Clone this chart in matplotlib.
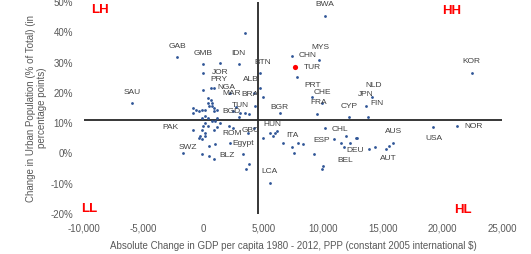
import matplotlib
matplotlib.use("Agg")
import matplotlib.pyplot as plt

plt.rcParams['font.family'] = ['Liberation Sans Narrow', 'Liberation Sans', 'DejaVu Sans']

# absolute change in GDP per capita 1980-2012 (PPP, constant 2005 intl $)
gdp_change = [10200, 3500, -2200, -5950, 0, 2950, 1400, 4750, 9700, 7450,
              7850, 9050, 9900, 9550, 12150, 14150, 13650, 13750, 22450, 0,
              4750, 4200, 5000, 0, 600, 850, 2250, 350, 600, 750,
              400, 750, 500, 850, 900, 1100, -900, -650, -400, -150,
              100, -850, 150, -100, 400, 750, 1100, 2750, 2450, 3100,
              3450, 3850, 4350, 2950, 6450,
              -900, 0, 400, 100, -100, 150, 850, 1150, 1400, 1000,
              -250, -400, -100, 100, 2100, 2450, 3750, 4200, 4950, 2250,
              -1750, 500, 1000, -100, 500, 850, 3350, 3850, 3600, 5550,
              5600, 5800, 6030, 6200, 6700, 7450, 7550, 7950, 8375, 10200,
              10950, 9300, 10050, 9950, 11950, 11550, 11800, 12250, 12750, 12900,
              13900, 14400, 15250, 15500, 15850, 19250, 21250]
# change in urban population share, percentage points
urban_change = [45.5, 39.6, 31.7, 16.5, 29.4, 29.4, 30.0, 26.4, 31.0, 32.3,
                25.1, 18.5, 16.5, 12.9, 11.9, 18.5, 15.5, 11.9, 26.7, 26.7,
                21.5, 20.1, 18.5, 20.8, 21.5, 21.5, 19.8, 18.2, 17.8, 16.8,
                16.5, 15.8, 15.5, 14.9, 13.9, 14.2, 14.9, 14.2, 13.9, 14.5,
                14.2, 13.2, 12.5, 11.6, 11.6, 10.6, 11.6, 15.2, 13.9, 13.2,
                13.2, 12.9, 15.8, 11.9, 13.2,
                7.9, 9.2, 8.9, 9.9, 7.6, 6.9, 7.6, 8.6, 9.9, 10.6,
                5.9, 5.0, 4.6, 5.9, 8.9, 8.3, 6.6, 8.3, 5.0, 3.3,
                0.3, 2.3, 3.0, -0.3, -0.7, -2.0, -0.3, -3.6, -5.0, -9.6,
                6.6, 5.9, 6.9, 7.3, 3.6, 2.0, 0.3, 3.3, 3.0, 8.3,
                4.6, -0.3, -4.0, -5.0, 5.6, 3.3, 2.0, 3.3, 5.0, 5.0,
                1.3, 2.0, 1.3, 2.3, 3.3, 8.6, 8.9]

# Turkey highlighted
tur_gdp = [7700]
tur_urban = [28.4]

# country label positions (text centre)
label_names = ['BWA', 'GAB', 'SAU', 'GMB', 'IDN', 'BTN', 'MYS', 'CHN', 'TUR', 'PRT',
               'CHE', 'FRA', 'CYP', 'NLD', 'JPN', 'FIN', 'KOR', 'JOR', 'PRY', 'ALB',
               'NGA', 'MAR', 'BRA', 'TUN', 'BGD', 'BGR', 'HUN', 'PAK', 'ROM', 'GBC',
               'Egypt', 'SWZ', 'BLZ', 'LCA', 'ITA', 'ESP', 'CHL', 'DEU', 'BEL', 'AUS',
               'AUT', 'USA', 'NOR']
label_x = [10200, -2200, -5950, 0, 2950, 4950, 9800, 8700, 9130, 9130,
           9970, 9630, 12230, 14240, 13570, 14490, 22450, 1420, 1260, 3940,
           1930, 2350, 3940, 3100, 2350, 6370, 5780, -2760, 2430, 3940,
           3350, -1260, 2010, 5530, 7450, 9880, 11470, 12730, 11890, 15910,
           15490, 19260, 22610]
label_y = [49.2, 35.3, 20.1, 33.0, 33.0, 30.0, 35.0, 32.3, 28.4, 22.4,
           20.1, 16.8, 15.5, 22.4, 19.5, 16.5, 30.4, 26.7, 24.4, 24.4,
           21.8, 19.8, 19.5, 15.8, 13.9, 15.2, 9.6, 8.6, 6.6, 7.6,
           3.3, 2.0, -0.7, -5.9, 5.9, 4.3, 7.9, 1.0, -2.3, 7.3,
           -1.7, 5.0, 8.9]

# quadrant labels
quad_names = ['LH', 'HH', 'LL', 'HL']
quad_x = [-8630, 20770, -9550, 21690]
quad_y = [47.2, 46.9, -18.5, -18.8]

# crossing lines (averages)
gdp_mid = 4600
urban_mid = 11.2

x_ticks = [-10000, -5000, 0, 5000, 10000, 15000, 20000, 25000]
y_ticks = [-20, -10, 0, 10, 20, 30, 40, 50]

fig = plt.figure(figsize=(5.31, 2.54), dpi=100)
ax = fig.add_axes([84/531, 1-214/254, 418/531, 212/254])

ax.axhline(urban_mid, color='#262626', lw=1.3, zorder=1)
ax.axvline(gdp_mid, color='#262626', lw=1.3, zorder=1)

ax.scatter(gdp_change, urban_change, s=4, color='#2F5597', linewidths=0, zorder=3)
ax.scatter(tur_gdp, tur_urban, s=14, color='#FF0000', linewidths=0, zorder=4)

for name, lx, ly in zip(label_names, label_x, label_y):
    ax.text(lx, ly, name, fontsize=6, color='#404040', ha='center', va='center', zorder=5)

for name, qx, qy in zip(quad_names, quad_x, quad_y):
    ax.text(qx, qy, name, fontsize=9.5, fontweight='bold', color='#FF0000',
            ha='center', va='center')

ax.set_xlim(-10000, 25000)
ax.set_ylim(-20, 50)
ax.set_xticks(x_ticks)
ax.set_xticklabels([f"{v:,}" for v in x_ticks])
ax.set_yticks(y_ticks)
ax.set_yticklabels([f"{v}%" for v in y_ticks])
ax.tick_params(length=0, labelsize=7, colors='#595959')
ax.tick_params(axis='y', pad=8)
ax.tick_params(axis='x', pad=7)
for s in ax.spines.values():
    s.set_visible(False)

ax.set_xlabel("Absolute Change in GDP per capita 1980 - 2012, PPP (constant 2005 international $)",
              fontsize=7, color='#595959', labelpad=5)
ax.set_ylabel("Change in Urban Population (% of Total) (in\npercentage points)",
              fontsize=7, color='#595959', labelpad=2)

fig.savefig("out.png", dpi=100)
